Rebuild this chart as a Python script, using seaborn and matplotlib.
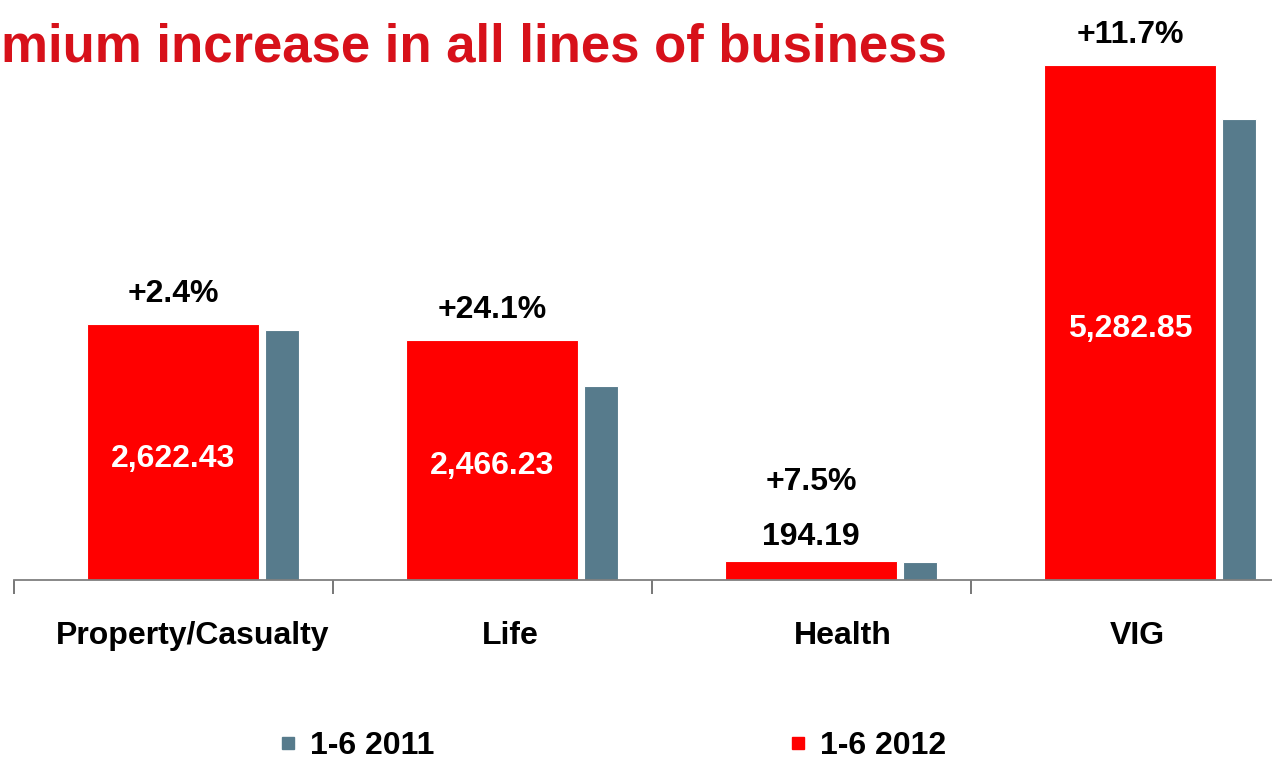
import matplotlib
matplotlib.use("Agg")
import matplotlib.pyplot as plt
from matplotlib.lines import Line2D
import seaborn as sns
import pandas as pd

categories = ["Property/Casualty", "Life", "Health", "VIG"]
values_2012 = [2622.43, 2466.23, 194.19, 5282.85]
values_2011 = [2561.0, 1987.3, 180.6, 4729.5]
growth_labels = ["+2.4%", "+24.1%", "+7.5%", "+11.7%"]
value_labels = ["2,622.43", "2,466.23", "194.19", "5,282.85"]
series_names = ["1-6 2011", "1-6 2012"]
title_text = "mium increase in all lines of business"

RED = "#FF0000"
TEAL = "#577B8C"
TITLE_RED = "#D7111A"
FONT = ["Liberation Sans", "DejaVu Sans"]
FS = 23

# small per-label horizontal offsets (pixels) of the category names
label_dx = [19, 18, 31, 7]

sns.set_theme(style="white")
plt.rcParams["font.family"] = FONT
plt.rcParams["font.weight"] = "bold"

fig = plt.figure(figsize=(12.72, 7.6), dpi=100)
ax = fig.add_axes([14 / 1272, 180 / 760, 1276 / 1272, 580 / 760])

df12 = pd.DataFrame({"cat": categories, "val": values_2012})
df11 = pd.DataFrame({"cat": categories, "val": values_2011})

RED_OFF, RED_W = -0.271, 0.539
TEAL_OFF, TEAL_W = 0.287, 0.107

sns.barplot(data=df12, x="cat", y="val", color=RED, width=RED_W, ax=ax,
            saturation=1, edgecolor="white", linewidth=0.8)
n_red = len(ax.patches)
sns.barplot(data=df11, x="cat", y="val", color=TEAL, width=TEAL_W, ax=ax,
            saturation=1, edgecolor="white", linewidth=0.8)

for i, p in enumerate(ax.patches[:n_red]):
    p.set_x(i + RED_OFF)
for i, p in enumerate(ax.patches[n_red:]):
    p.set_x(i + TEAL_OFF)

ax.set_xlim(-0.5, len(categories) - 0.5)
ax.set_ylim(0, 5949)

# value and growth labels
for i, (v, vl, gl) in enumerate(zip(values_2012, value_labels, growth_labels)):
    cx = i + RED_OFF + RED_W / 2
    if v > 1000:
        ax.annotate(vl, (cx, v / 2), xytext=(0, -3), textcoords="offset pixels",
                    ha="center", va="center_baseline", color="white",
                    fontsize=FS, fontweight="bold")
        ax.annotate(gl, (cx, v), xytext=(0, 22), textcoords="offset pixels",
                    ha="center", va="baseline", fontsize=FS, fontweight="bold",
                    color="black")
    else:
        ax.annotate(vl, (cx, v), xytext=(0, 16), textcoords="offset pixels",
                    ha="center", va="baseline", fontsize=FS, fontweight="bold",
                    color="black")
        ax.annotate(gl, (cx, v), xytext=(0, 71), textcoords="offset pixels",
                    ha="center", va="baseline", fontsize=FS, fontweight="bold",
                    color="black")

# axes styling
for s in ["top", "right", "left"]:
    ax.spines[s].set_visible(False)
ax.spines["bottom"].set_color("#7F7F7F")
ax.spines["bottom"].set_linewidth(1.3)
ax.set_yticks([])
ax.set_xlabel("")
ax.set_ylabel("")
ax.set_xticks([i - 0.5 for i in range(len(categories) + 1)])
ax.set_xticklabels([])
ax.tick_params(axis="x", bottom=True, length=10, width=1.2, color="#606060",
               direction="out")

for i, c in enumerate(categories):
    ax.annotate(c, (i, 0), xytext=(label_dx[i], -56), textcoords="offset pixels",
                ha="center", va="center", fontsize=FS, fontweight="bold",
                color="black", annotation_clip=False)

# title (its start is cut off in the reference)
fig.text(1 / 1272, 1 - 62 / 760, title_text, ha="left", va="baseline",
         color=TITLE_RED, fontsize=38, fontweight="bold")

# legend
handles = [Line2D([], [], marker="s", linestyle="none", color=TEAL, markersize=8),
           Line2D([], [], marker="s", linestyle="none", color=RED, markersize=8)]
leg = fig.legend(handles, series_names, loc="center left",
                 bbox_to_anchor=(278 / 1272, 1 - 746 / 760), ncol=2,
                 frameon=False, prop={"size": FS, "weight": "bold"},
                 labelcolor="black",
                 handlelength=0.6, handletextpad=0.39, columnspacing=11.1,
                 borderpad=0, borderaxespad=0)

fig.savefig("out.png", dpi=100)
